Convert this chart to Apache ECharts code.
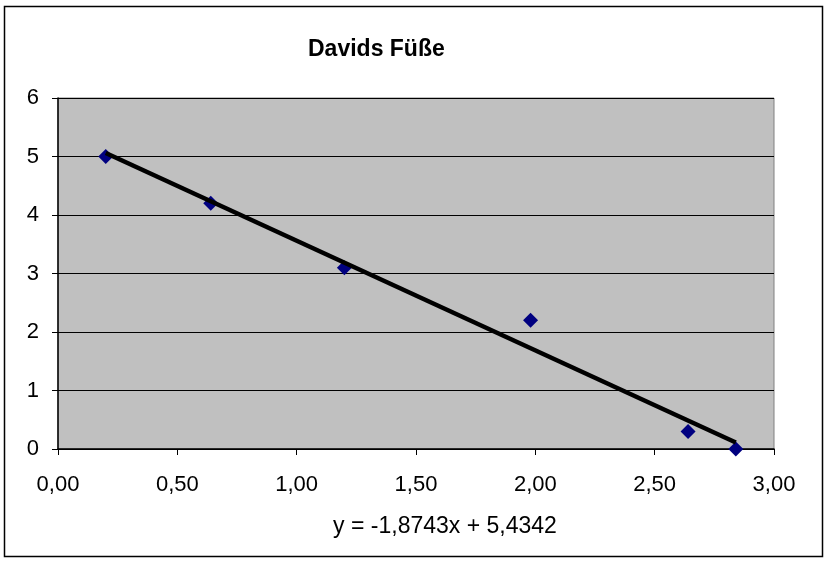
<!DOCTYPE html>
<html>
<head>
<meta charset="utf-8">
<script src="https://cdn.jsdelivr.net/npm/echarts@6/dist/echarts.min.js"></script>
<style>
  html, body { margin: 0; padding: 0; background: #fff; }
  #chart { width: 827px; height: 562px; }
</style>
</head>
<body>
<div id="chart"></div>
<script>
// Messwerte
var xValues = [0.2, 0.64, 1.2, 1.98, 2.64, 2.84];
var yValues = [5, 4.2, 3.1, 2.2, 0.3, 0];
var chartTitle = 'Davids Füße';

// lineare Regression (Trendlinie wie in Excel)
var n = xValues.length;
var sx = 0, sy = 0, sxy = 0, sxx = 0;
for (var i = 0; i < n; i++) {
  sx += xValues[i]; sy += yValues[i];
  sxy += xValues[i] * yValues[i]; sxx += xValues[i] * xValues[i];
}
var slope = (sxy - sx * sy / n) / (sxx - sx * sx / n);
var intercept = sy / n - slope * sx / n;
var xMin = Math.min.apply(null, xValues);
var xMax = Math.max.apply(null, xValues);
var trend = [[xMin, slope * xMin + intercept], [xMax, slope * xMax + intercept]];

function de(v, d) { return v.toFixed(d).replace('.', ','); }
var equation = 'y = ' + de(slope, 4) + 'x + ' + de(intercept, 4);

var points = xValues.map(function (x, i) { return [x, yValues[i]]; });

var chart = echarts.init(document.getElementById('chart'));
var font = 'Liberation Sans, Arial, sans-serif';

chart.setOption({
  animation: false,
  textStyle: { fontFamily: font },
  graphic: [{
    type: 'rect',
    shape: { x: 4.5, y: 6.5, width: 818, height: 550 },
    style: { fill: 'none', stroke: '#000', lineWidth: 1.5 },
    z: 0
  }],
  title: {
    text: chartTitle,
    left: 303,
    top: 33,
    textStyle: { fontFamily: font, fontSize: 23, fontWeight: 'bold', color: '#000' }
  },
  grid: {
    left: 58, top: 98, right: 53, bottom: 113,
    show: true,
    backgroundColor: '#C0C0C0',
    borderColor: '#808080',
    borderWidth: 1
  },
  xAxis: {
    type: 'value',
    min: 0, max: 3, interval: 0.5,
    name: equation,
    nameLocation: 'middle',
    nameGap: 66,
    nameTextStyle: { fontFamily: font, fontSize: 23, color: '#000', padding: [0, 0, 0, 58] },
    axisLine: { show: true, lineStyle: { color: '#000', width: 1.5 } },
    axisTick: { show: true, inside: false, length: 6, lineStyle: { color: '#000' } },
    axisLabel: {
      fontFamily: font, fontSize: 22, color: '#000', margin: 25,
      formatter: function (v) { return de(v, 2); }
    },
    splitLine: { show: false }
  },
  yAxis: {
    type: 'value',
    min: 0, max: 6, interval: 1,
    axisLine: { show: true, lineStyle: { color: '#000', width: 1.5 } },
    axisTick: { show: true, inside: false, length: 6, lineStyle: { color: '#000' } },
    axisLabel: { fontFamily: font, fontSize: 22, color: '#000', margin: 19 },
    splitLine: { show: true, lineStyle: { color: '#000', width: 1 } }
  },
  series: [
    {
      type: 'scatter',
      data: points,
      symbol: 'diamond',
      symbolSize: 15,
      itemStyle: { color: '#000080', opacity: 1 },
      z: 3
    },
    {
      type: 'line',
      data: trend,
      symbol: 'none',
      lineStyle: { color: '#000', width: 4.5 },
      z: 4
    }
  ]
});
</script>
</body>
</html>
